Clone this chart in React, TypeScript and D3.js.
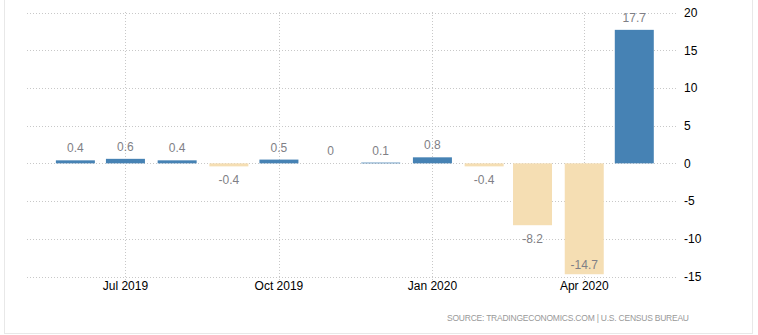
import React from "react";
import * as d3 from "d3";

const months: string[] = ["2019-06", "2019-07", "2019-08", "2019-09", "2019-10", "2019-11", "2019-12", "2020-01", "2020-02", "2020-03", "2020-04", "2020-05"];
const values: number[] = [0.4, 0.6, 0.4, -0.4, 0.5, 0, 0.1, 0.8, -0.4, -8.2, -14.7, 17.7];
const xTicks: string[] = ["2019-07", "2019-10", "2020-01", "2020-04"];
const xTickLabels: string[] = ["Jul 2019", "Oct 2019", "Jan 2020", "Apr 2020"];
const yTicks: number[] = [20, 15, 10, 5, 0, -5, -10, -15];
const sourceText = "SOURCE: TRADINGECONOMICS.COM | U.S. CENSUS BUREAU";

const W = 758;
const H = 335;
const FONT = "'Liberation Sans', Arial, sans-serif";

function parseMonth(s: string): Date {
  const [y, m] = s.split("-").map(Number);
  return new Date(y, m - 1, 1);
}

export default function App() {
  const x = d3
    .scaleTime()
    .domain([new Date(2019, 4, 3), new Date(2020, 4, 26)])
    .range([27, 676]);
  const y = d3.scaleLinear().domain([-15, 20]).range([276.5, 12.5]);
  const barW = 39;
  const y0 = y(0);

  return (
    <svg
      width={W}
      height={H}
      style={{ position: "absolute", left: 0, top: 0, background: "#fff" }}
      fontFamily={FONT}
    >
      <rect x={4.5} y={-5} width={748} height={338.5} fill="#fff" stroke="#e8e8e8" strokeWidth={1} />
      {yTicks.map((t) => (
        <line
          key={"h" + t}
          x1={27}
          x2={676}
          y1={Math.round(y(t)) + 0.5}
          y2={Math.round(y(t)) + 0.5}
          stroke="#c8c8c8"
          strokeDasharray="1,2"
        />
      ))}
      {xTicks.map((t) => {
        const xx = Math.round(x(parseMonth(t))) + 0.5;
        return (
          <line key={"v" + t} x1={xx} x2={xx} y1={12} y2={281} stroke="#c8c8c8" strokeDasharray="1,2" />
        );
      })}
      {months.map((m, i) => {
        const v = values[i];
        const cx = x(parseMonth(m));
        const top = v >= 0 ? y(v) : y0;
        const h = Math.abs(y(v) - y0);
        return (
          <rect
            key={"b" + m}
            x={cx - barW / 2}
            y={top}
            width={barW}
            height={h}
            fill={v >= 0 ? "#4682b4" : "#f5deb3"}
          />
        );
      })}
      {months.map((m, i) => {
        const v = values[i];
        const cx = x(parseMonth(m));
        let by: number;
        if (v >= 0) {
          by = y(v) - 8;
        } else {
          const bottom = y(v);
          by = bottom + 18 > 280 ? bottom - 5 : bottom + 18;
        }
        return (
          <text key={"l" + m} x={cx} y={by} textAnchor="middle" fontSize={12} fill="#7f7f86">
            {String(v)}
          </text>
        );
      })}
      {yTicks.map((t) => (
        <text key={"yt" + t} x={684} y={y(t) + 4.3} fontSize={12} fill="#000">
          {String(t)}
        </text>
      ))}
      {xTicks.map((t, i) => (
        <text key={"xt" + t} x={x(parseMonth(t))} y={290} textAnchor="middle" fontSize={12} fill="#000">
          {xTickLabels[i]}
        </text>
      ))}
      <text
        x={447}
        y={320.5}
        fontSize={8.5}
        fill="#999"
        textLength={242}
        lengthAdjust="spacing"
      >
        {sourceText}
      </text>
    </svg>
  );
}
